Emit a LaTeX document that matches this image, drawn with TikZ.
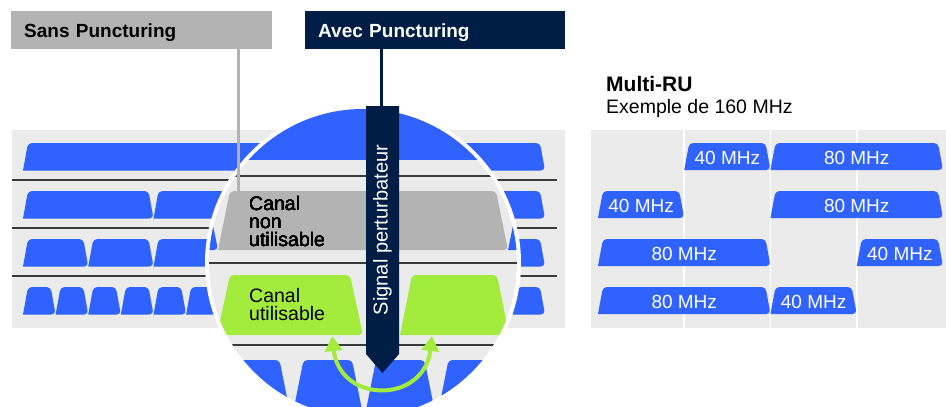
\documentclass[tikz,border=0pt]{standalone}
\usepackage{fontspec}
\setmainfont{Liberation Sans}
\usetikzlibrary{arrows.meta}
\definecolor{chanblue}{HTML}{2F62FF}
\definecolor{panel}{HTML}{EBEBEB}
\definecolor{offgray}{HTML}{B3B3B3}
\definecolor{usegreen}{HTML}{A3EB3C}
\definecolor{navy}{HTML}{001E45}
\definecolor{rule}{HTML}{3A3A3A}
\newcommand{\chan}[6][chanblue]{%
  \fill[#1] ({#2},{#5}) [rounded corners=4pt] -- ({#2+#6},{#4}) -- ({#3-#6},{#4}) -- ({#3},{#5}) [sharp corners] -- cycle;}

\begin{document}
\begin{tikzpicture}[x=1pt, y=-1pt,
  title/.style={anchor=north west, text height=15pt, text depth=0pt, text width=235pt, inner xsep=13pt, inner ysep=11.5pt, align=left, font=\fontsize{19}{21}\selectfont\bfseries},
  mhz/.style={text=white, inner sep=0pt, font=\fontsize{19}{21}\selectfont},
  canal/.style={anchor=base west, align=left, inner sep=0pt, font=\fontsize{19.5}{18}\selectfont},
  sep/.style={draw=rule, line width=1.2pt},
  lead/.style={line width=3pt},
  swap/.style={draw=usegreen, line width=4pt, {Triangle[length=15pt,width=17pt]}-{Triangle[length=15pt,width=17pt]}}]
\useasboundingbox (0,0) rectangle (946,407);

% sans puncturing, 320 MHz
\fill[panel] (12,130) rectangle (565,328);
\foreach \n/\yt in {1/143, 4/191, 8/239, 16/287} {
  \pgfmathsetmacro\w{522/\n}
  \foreach \k in {1,...,\n} {
    \pgfmathsetmacro\xa{23+(\k-1)*\w}
    \pgfmathsetmacro\xb{\xa+\w}
    \chan{\xa}{\xb}{\yt}{\yt+27.5}{5}
  }
}
\foreach \y in {180,228,276} \draw[sep] (12,\y) -- (557,\y);

% multi-RU, 160 MHz
\fill[panel] (591,130) rectangle (946,328);
\foreach \x in {684,770.5,857} \draw[white, line width=1.5pt] (\x,130) -- (\x,328);
\foreach \r/\yt/\a/\b/\lab in {1/143/2/2/40, 1/143/3/4/80, 2/191/1/1/40, 2/191/3/4/80,
    3/239/1/2/80, 3/239/4/4/40, 4/287/1/2/80, 4/287/3/3/40} {
  \pgfmathsetmacro\xa{598+(\a-1)*86.25}
  \pgfmathsetmacro\xb{598+\b*86.25}
  \chan{\xa}{\xb}{\yt}{\yt+27}{5}
  \node[mhz] (ru\r-\a) at ({(\xa+\xb)/2},{\yt+15}) {\lab{} MHz};
}

% loupe
\coordinate (zoom) at (363,263);
\fill[white] (zoom) circle[radius=158];
\begin{scope}
\clip (zoom) circle[radius=154];
\fill[panel] (zoom) circle[radius=154];
\fill[chanblue] (200,100) rectangle (530,160);
\foreach \y in {176,263,345} \draw[sep] (200,\y) -- (530,\y);
\chan{-72}{218}{191}{250}{12}
\chan[offgray]{218}{508}{191}{250}{12}
\chan{508}{798}{191}{250}{12}
\chan[usegreen]{217}{363}{275}{335}{13}
\chan[usegreen]{400}{509}{275}{335}{12}
\foreach \x in {146.5,219,291.5,364,436.5,509} \chan{\x}{\x+72.5}{360}{420}{12}
\node[canal] (unus) at (249,246) {Canal\\non\\utilisable};
\node[canal] (usab) at (249,320) {Canal\\utilisable};
\end{scope}
\coordinate (useL) at (332,336);
\coordinate (useR) at (432,336);
\draw[swap] (useL) .. controls ([shift={(8,68)}]useL) and ([shift={(-8,68)}]useR) .. (useR);

\fill[navy] (366,106) -- (399,106) -- (399,354) -- (382.5,373) -- (366,354) -- cycle;
\node[rotate=90, text=white, inner sep=0pt, font=\fontsize{20}{22}\selectfont] (sig) at (382.5,230) {Signal perturbateur};
\coordinate (bartop) at (381.5,107);
\coordinate (offtop) at (238,191);

\node[title, fill=offgray] (sans) at (11,11) {Sans Puncturing};
\node[title, fill=navy, text=white, text width=234pt] (avec) at (305,11) {Avec Puncturing};
\draw[lead, offgray] (sans.south -| offtop) -- (offtop);
\draw[lead, navy] (avec.south -| bartop) -- (bartop);

\node[anchor=base west, inner sep=0pt, font=\fontsize{21}{23}\selectfont\bfseries] (multi) at (606,91) {Multi-RU};
\node[anchor=base west, inner sep=0pt, font=\fontsize{19.5}{22}\selectfont] (ex) at ([yshift=-22pt]multi.base west) {Exemple de 160 MHz};
\end{tikzpicture}
\end{document}
